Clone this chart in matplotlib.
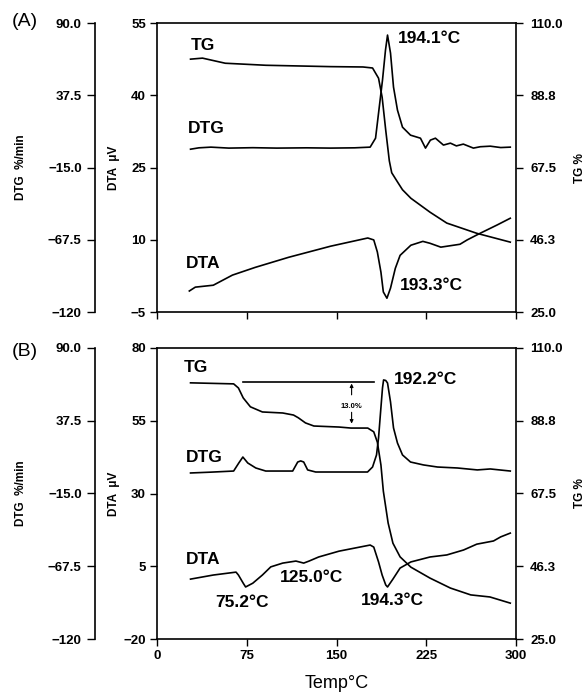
import matplotlib
matplotlib.use("Agg")
import matplotlib.pyplot as plt

plt.rcParams['font.family'] = ['Liberation Sans', 'DejaVu Sans']
plt.rcParams['font.weight'] = 'bold'

# ---------------- data (panel A) ----------------
a_tg_x = [28, 38, 57, 91, 145, 172, 180, 185, 188, 191, 194, 196, 201, 205, 212, 228, 242, 267, 295]
a_tg_y = [99.4, 99.7, 98.2, 97.6, 97.2, 97.1, 96.8, 93.8, 88.2, 78.5, 69.5, 66.0, 63.2, 61.0, 58.5, 54.4, 51.2, 48.2, 45.6]

a_dtg_x = [28, 35, 45, 60, 80, 100, 125, 145, 165, 178, 182.5, 185, 188.3, 190.8, 192.5, 195, 197.5,
           200.8, 205, 211.7, 220, 224.2, 228.3, 232.5, 239.2, 245, 250, 255.8, 264.2, 270, 278.3, 287, 295]
a_dtg_y = [-1.6, -0.6, -0.1, -0.8, -0.5, -0.8, -0.6, -0.8, -0.6, -0.1, 6.4, 24.6, 48.6, 70.4, 81.3, 68.2, 43.5,
           26.8, 14.4, 8.6, 6.4, -0.8, 5.0, 6.4, 1.4, 2.8, 0.8, 2.1, -0.8, 0.2, 0.6, -0.4, -0.1]

a_dta_x = [27, 32, 47, 63, 82, 110, 145, 176, 181, 184, 187, 189, 192, 195, 199, 203, 212, 222, 228, 237, 253, 259, 270, 284, 295]
a_dta_y = [-0.6, 0.2, 0.6, 2.7, 4.3, 6.4, 8.7, 10.4, 10.0, 7.5, 3.3, -0.8, -2.1, 0.0, 4.1, 6.8, 8.9, 9.7, 9.3, 8.5, 9.1, 10.0, 11.4, 13.1, 14.5]

# ---------------- data (panel B) ----------------
b_tg_x = [28, 64, 68, 72, 78, 88, 105, 114, 118, 124, 131, 152, 162, 176, 181, 184, 187, 189, 193, 197, 203, 212, 228, 245, 262, 278, 295]
b_tg_y = [99.8, 99.5, 98.3, 95.4, 92.8, 91.3, 91.0, 90.4, 89.6, 88.1, 87.2, 86.9, 86.6, 86.6, 85.5, 82.5, 75.8, 68.2, 58.9, 53.0, 49.0, 46.0, 42.8, 39.9, 37.9, 37.3, 35.5]

b_dtg_x = [28, 45, 64, 68.3, 71.7, 75.8, 82.5, 90.8, 113.3, 117.5, 120, 122.5, 125.8, 132.5, 151.7, 175.8, 180, 183.3,
           185, 186.7, 188.3, 189.2, 191, 192.5, 195, 197.5, 200.8, 205, 211.7, 222.5, 234.2, 250.8, 267.5, 278.3, 295]
b_dtg_y = [-0.2, 0.4, 1.2, 7.0, 11.3, 7.0, 3.4, 1.2, 1.2, 7.7, 8.5, 7.7, 2.0, 0.5, 0.5, 0.5, 4.1, 12.8,
           25.1, 43.8, 61.1, 66.9, 66.5, 64.7, 51.0, 32.3, 21.4, 12.8, 7.7, 5.6, 4.1, 3.4, 2.0, 2.7, 1.2]

b_dta_x = [28, 47, 66, 68, 72, 74, 80, 88, 95, 105, 116, 122.5, 127, 135, 152, 178, 181, 185, 188, 191, 192.5, 197, 203, 212, 228, 242, 256, 267, 281, 287, 295]
b_dta_y = [0.6, 2.0, 3.0, 2.0, -0.8, -2.1, -0.8, 2.0, 4.8, 6.1, 6.8, 6.1, 6.8, 8.2, 10.2, 12.3, 11.6, 6.5, 2.0, -1.4, -2.1, 0.6, 4.4, 6.5, 8.2, 8.9, 10.6, 12.6, 13.7, 15.1, 16.4]

b_ref_x = [71.7, 180.8]
b_ref_y = [100.0, 100.0]

# ---------------- axis scales / ticks ----------------
x_ticks = [0, 75, 150, 225, 300]
dtg_ticks = [90.0, 37.5, -15.0, -67.5, -120]
dtg_labels = ['90.0', '37.5', '\u221215.0', '\u221267.5', '\u2212120']
tg_ticks = [110.0, 88.8, 67.5, 46.3, 25.0]
tg_labels = ['110.0', '88.8', '67.5', '46.3', '25.0']
a_dta_ticks = [55, 40, 25, 10, -5]
a_dta_labels = ['55', '40', '25', '10', '\u22125']
b_dta_ticks = [80, 55, 30, 5, -20]
b_dta_labels = ['80', '55', '30', '5', '\u221220']

fig = plt.figure(figsize=(5.88, 7.0), dpi=100)

LW = 1.2
TS = 9.5  # tick label size
LS = 8.5  # axis label size


def make_panel(rect, dta_ticks, dta_labels, show_xlabels):
    ax = fig.add_axes(rect)
    ax.set_xlim(0, 300)
    ax.set_ylim(dta_ticks[-1], dta_ticks[0])
    ax.set_yticks(dta_ticks)
    ax.set_yticklabels(dta_labels)
    ax.set_xticks(x_ticks)
    if show_xlabels:
        ax.set_xticklabels([str(t) for t in x_ticks])
    else:
        ax.set_xticklabels([])
    ax.tick_params(axis='both', direction='out', length=5, width=1, labelsize=TS, pad=3)
    for s in ax.spines.values():
        s.set_linewidth(1.2)
    ax.set_ylabel('DTA  \u03bcV', fontsize=LS, fontweight='bold')
    ax.yaxis.set_label_coords(-0.103, 0.5)

    ax_tg = ax.twinx()
    ax_tg.set_ylim(25.0, 110.0)
    ax_tg.set_yticks(tg_ticks)
    ax_tg.set_yticklabels(tg_labels)
    ax_tg.tick_params(axis='y', direction='out', length=5, width=1, labelsize=TS, pad=5)
    ax_tg.set_ylabel('TG %', fontsize=LS, fontweight='bold')
    ax_tg.yaxis.set_label_coords(1.16, 0.5)
    for s in ax_tg.spines.values():
        s.set_visible(False)

    ax_dtg = ax.twinx()
    ax_dtg.set_ylim(-120, 90.0)
    ax_dtg.spines['left'].set_position(('axes', -0.173))
    ax_dtg.spines['left'].set_visible(True)
    ax_dtg.spines['left'].set_linewidth(1.2)
    for k in ['right', 'top', 'bottom']:
        ax_dtg.spines[k].set_visible(False)
    ax_dtg.yaxis.set_ticks_position('left')
    ax_dtg.yaxis.set_label_position('left')
    ax_dtg.set_yticks(dtg_ticks)
    ax_dtg.set_yticklabels(dtg_labels)
    ax_dtg.tick_params(axis='y', direction='out', length=5.5, width=1, labelsize=TS, pad=4)
    ax_dtg.set_ylabel('DTG  %/min', fontsize=LS, fontweight='bold')
    ax_dtg.yaxis.set_label_coords(-0.362, 0.5)
    return ax, ax_tg, ax_dtg


BIG = 12.5

# ---------------- panel A ----------------
axA, axA_tg, axA_dtg = make_panel([0.267, 0.554, 0.611, 0.413], a_dta_ticks, a_dta_labels, False)
axA.plot(a_dta_x, a_dta_y, color='k', lw=LW)
axA_tg.plot(a_tg_x, a_tg_y, color='k', lw=LW)
axA_dtg.plot(a_dtg_x, a_dtg_y, color='k', lw=LW)
axA.text(28, 50.4, 'TG', fontsize=BIG, ha='left', va='center')
axA.text(26, 33.2, 'DTG', fontsize=BIG, ha='left', va='center')
axA.text(24, 5.2, 'DTA', fontsize=BIG, ha='left', va='center')
axA.text(201, 51.9, '194.1\u00b0C', fontsize=BIG, ha='left', va='center')
axA.text(203, 0.6, '193.3\u00b0C', fontsize=BIG, ha='left', va='center')
fig.text(12 / 588, 1 - 22 / 700, '(A)', fontsize=14, fontweight='normal', ha='left', va='center')

# ---------------- panel B ----------------
axB, axB_tg, axB_dtg = make_panel([0.267, 0.087, 0.611, 0.416], b_dta_ticks, b_dta_labels, True)
axB.plot(b_dta_x, b_dta_y, color='k', lw=LW)
axB_tg.plot(b_tg_x, b_tg_y, color='k', lw=LW)
axB_tg.plot(b_ref_x, b_ref_y, color='k', lw=LW)
axB_dtg.plot(b_dtg_x, b_dtg_y, color='k', lw=LW)
axB_tg.annotate('', xy=(162.5, 99.6), xytext=(162.5, 96.3),
                arrowprops=dict(arrowstyle='-|>', lw=0.8, color='k', mutation_scale=5, shrinkA=0, shrinkB=0))
axB_tg.annotate('', xy=(162.5, 87.9), xytext=(162.5, 91.2),
                arrowprops=dict(arrowstyle='-|>', lw=0.8, color='k', mutation_scale=5, shrinkA=0, shrinkB=0))
axB_tg.text(162.5, 93.0, '13.0%', fontsize=5.5, ha='center', va='center')
axB.text(22, 73.1, 'TG', fontsize=BIG, ha='left', va='center')
axB.text(24, 42.5, 'DTG', fontsize=BIG, ha='left', va='center')
axB.text(24, 7.2, 'DTA', fontsize=BIG, ha='left', va='center')
axB.text(49, -7.3, '75.2\u00b0C', fontsize=BIG, ha='left', va='center')
axB.text(103, 1.0, '125.0\u00b0C', fontsize=BIG, ha='left', va='center')
axB.text(197.5, 69.0, '192.2\u00b0C', fontsize=BIG, ha='left', va='center')
axB.text(170, -6.6, '194.3\u00b0C', fontsize=BIG, ha='left', va='center')
axB.set_xlabel('Temp\u00b0C', fontsize=13, fontweight='normal', labelpad=9)
fig.text(12 / 588, 1 - 351 / 700, '(B)', fontsize=14, fontweight='normal', ha='left', va='center')

fig.savefig('out.png', dpi=100)
